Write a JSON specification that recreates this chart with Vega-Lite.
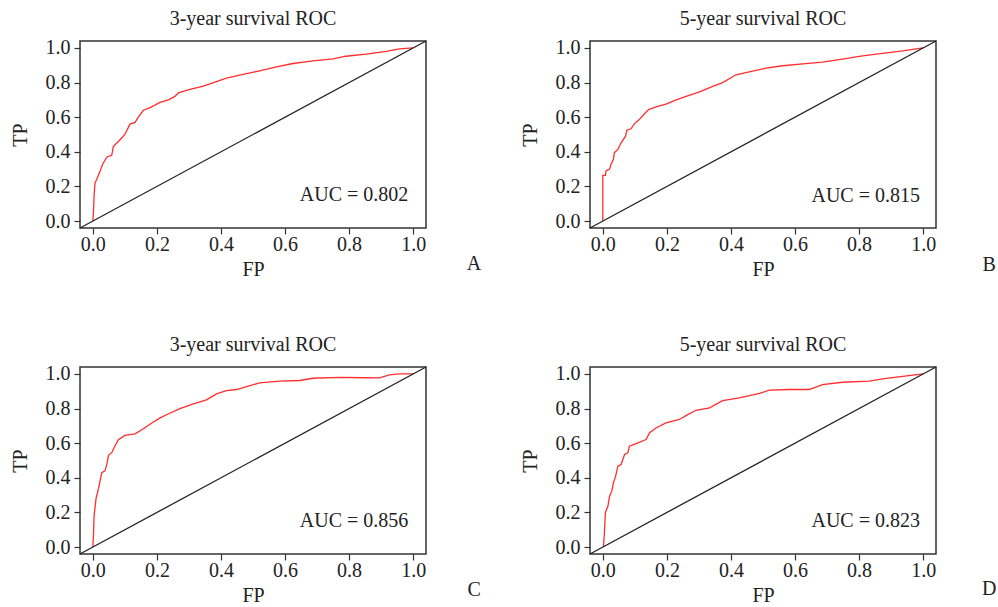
{
  "$schema": "https://vega.github.io/schema/vega-lite/v6.json",
  "background": "white",
  "padding": {"left": 9, "top": 8, "right": 5, "bottom": 5},
  "config": {
    "font": "Liberation Serif",
    "view": {"stroke": "#333", "strokeWidth": 1.5},
    "axis": {"labelFont": "Liberation Serif", "labelFontSize": 20, "labelColor": "#222", "titleFont": "Liberation Serif", "titleFontSize": 20, "titleFontWeight": "normal", "titleColor": "#222", "tickColor": "#333", "tickSize": 6, "tickWidth": 1.2, "domain": false, "grid": false, "labelPadding": 4, "labelFlush": false, "labelOverlap": false, "tickCount": 6, "format": ".1f"},
    "axisY": {"titlePadding": 15},
    "axisX": {"titlePadding": 5, "labelPadding": 0},
    "title": {"font": "Liberation Serif", "fontSize": 20, "fontWeight": "normal", "color": "#222", "baseline": "alphabetic", "offset": 9}
  },
  "datasets": {
    "A": [{"fp":0,"tp":0},{"fp":0.002,"tp":0.05},{"fp":0.004,"tp":0.15},{"fp":0.007,"tp":0.22},{"fp":0.012,"tp":0.24},{"fp":0.023,"tp":0.29},{"fp":0.031,"tp":0.33},{"fp":0.044,"tp":0.37},{"fp":0.059,"tp":0.38},{"fp":0.064,"tp":0.43},{"fp":0.085,"tp":0.47},{"fp":0.1,"tp":0.5},{"fp":0.116,"tp":0.56},{"fp":0.132,"tp":0.57},{"fp":0.142,"tp":0.6},{"fp":0.158,"tp":0.64},{"fp":0.179,"tp":0.655},{"fp":0.21,"tp":0.685},{"fp":0.236,"tp":0.7},{"fp":0.256,"tp":0.72},{"fp":0.267,"tp":0.74},{"fp":0.303,"tp":0.76},{"fp":0.345,"tp":0.78},{"fp":0.386,"tp":0.805},{"fp":0.417,"tp":0.825},{"fp":0.469,"tp":0.847},{"fp":0.521,"tp":0.868},{"fp":0.573,"tp":0.89},{"fp":0.625,"tp":0.91},{"fp":0.687,"tp":0.925},{"fp":0.75,"tp":0.937},{"fp":0.79,"tp":0.952},{"fp":0.853,"tp":0.964},{"fp":0.916,"tp":0.98},{"fp":0.957,"tp":0.995},{"fp":1,"tp":1}],
    "B": [{"fp":0,"tp":0},{"fp":0.0,"tp":0.264},{"fp":0.008,"tp":0.264},{"fp":0.01,"tp":0.29},{"fp":0.021,"tp":0.3},{"fp":0.026,"tp":0.33},{"fp":0.033,"tp":0.356},{"fp":0.036,"tp":0.395},{"fp":0.047,"tp":0.414},{"fp":0.057,"tp":0.452},{"fp":0.071,"tp":0.49},{"fp":0.075,"tp":0.525},{"fp":0.088,"tp":0.533},{"fp":0.099,"tp":0.563},{"fp":0.114,"tp":0.586},{"fp":0.13,"tp":0.62},{"fp":0.143,"tp":0.644},{"fp":0.166,"tp":0.659},{"fp":0.197,"tp":0.676},{"fp":0.229,"tp":0.7},{"fp":0.26,"tp":0.72},{"fp":0.3,"tp":0.745},{"fp":0.343,"tp":0.778},{"fp":0.374,"tp":0.8},{"fp":0.416,"tp":0.845},{"fp":0.457,"tp":0.862},{"fp":0.509,"tp":0.883},{"fp":0.561,"tp":0.897},{"fp":0.624,"tp":0.908},{"fp":0.686,"tp":0.918},{"fp":0.748,"tp":0.935},{"fp":0.811,"tp":0.954},{"fp":0.873,"tp":0.969},{"fp":0.936,"tp":0.983},{"fp":1,"tp":1}],
    "C": [{"fp":0,"tp":0},{"fp":0.002,"tp":0.067},{"fp":0.004,"tp":0.18},{"fp":0.01,"tp":0.28},{"fp":0.018,"tp":0.34},{"fp":0.023,"tp":0.385},{"fp":0.028,"tp":0.43},{"fp":0.038,"tp":0.44},{"fp":0.044,"tp":0.48},{"fp":0.049,"tp":0.53},{"fp":0.059,"tp":0.545},{"fp":0.07,"tp":0.587},{"fp":0.08,"tp":0.62},{"fp":0.1,"tp":0.645},{"fp":0.132,"tp":0.654},{"fp":0.158,"tp":0.683},{"fp":0.184,"tp":0.717},{"fp":0.21,"tp":0.746},{"fp":0.24,"tp":0.773},{"fp":0.272,"tp":0.8},{"fp":0.314,"tp":0.827},{"fp":0.355,"tp":0.85},{"fp":0.386,"tp":0.885},{"fp":0.417,"tp":0.904},{"fp":0.449,"tp":0.91},{"fp":0.48,"tp":0.927},{"fp":0.52,"tp":0.948},{"fp":0.584,"tp":0.958},{"fp":0.646,"tp":0.962},{"fp":0.687,"tp":0.975},{"fp":0.77,"tp":0.98},{"fp":0.854,"tp":0.978},{"fp":0.895,"tp":0.977},{"fp":0.926,"tp":0.994},{"fp":0.957,"tp":1},{"fp":1,"tp":1}],
    "D": [{"fp":0.002,"tp":0},{"fp":0.005,"tp":0.083},{"fp":0.008,"tp":0.2},{"fp":0.016,"tp":0.237},{"fp":0.021,"tp":0.294},{"fp":0.028,"tp":0.323},{"fp":0.033,"tp":0.371},{"fp":0.04,"tp":0.41},{"fp":0.047,"tp":0.467},{"fp":0.057,"tp":0.477},{"fp":0.068,"tp":0.535},{"fp":0.078,"tp":0.544},{"fp":0.083,"tp":0.583},{"fp":0.104,"tp":0.598},{"fp":0.135,"tp":0.621},{"fp":0.146,"tp":0.66},{"fp":0.166,"tp":0.688},{"fp":0.197,"tp":0.717},{"fp":0.239,"tp":0.737},{"fp":0.265,"tp":0.765},{"fp":0.291,"tp":0.79},{"fp":0.333,"tp":0.804},{"fp":0.374,"tp":0.846},{"fp":0.426,"tp":0.862},{"fp":0.489,"tp":0.887},{"fp":0.52,"tp":0.906},{"fp":0.582,"tp":0.91},{"fp":0.644,"tp":0.91},{"fp":0.686,"tp":0.938},{"fp":0.748,"tp":0.952},{"fp":0.832,"tp":0.958},{"fp":0.873,"tp":0.971},{"fp":0.936,"tp":0.986},{"fp":1,"tp":1}]
  },
  "columns": 2,
  "spacing": {"row": 139, "column": 164},
  "bounds": "flush",
  "concat": [
    {
      "width": 346, "height": 187,
      "title": "3-year survival ROC",
      "encoding": {
        "x": {"type": "quantitative", "title": "FP", "scale": {"domain": [-0.04, 1.04], "nice": false, "zero": false}, "axis": {"values": [0, 0.2, 0.4, 0.6, 0.8, 1.0], "labelOverlap": false}},
        "y": {"type": "quantitative", "title": "TP", "scale": {"domain": [-0.04, 1.04], "nice": false, "zero": false}, "axis": {"values": [0, 0.2, 0.4, 0.6, 0.8, 1.0], "labelOverlap": false}}
      },
      "layer": [
        {"data": {"name": "A"}, "mark": {"type": "line", "color": "#ff2d2d", "strokeWidth": 1.3},
         "encoding": {"x": {"field": "fp"}, "y": {"field": "tp"}, "order": [{"field": "fp"}, {"field": "tp"}]}},
        {"data": {"values": [{}]}, "mark": {"type": "rule", "color": "#222", "strokeWidth": 1.3}, "encoding": {"x": {"datum": -0.04}, "y": {"datum": -0.04}, "x2": {"datum": 1.04}, "y2": {"datum": 1.04}}},
        {"data": {"values": [{}]}, "mark": {"type": "text", "align": "right", "baseline": "alphabetic", "fontSize": 20, "color": "#222", "font": "Liberation Serif"}, "encoding": {"x": {"datum": 0.985}, "y": {"datum": 0.115}, "text": {"value": "AUC = 0.802"}}},
        {"data": {"values": [{}]}, "mark": {"type": "text", "align": "center", "baseline": "alphabetic", "fontSize": 20, "color": "#222", "font": "Liberation Serif"}, "encoding": {"x": {"datum": 1.19}, "y": {"datum": -0.28}, "text": {"value": "A"}}}
      ]
    },
    {
      "width": 346, "height": 187,
      "title": "5-year survival ROC",
      "encoding": {
        "x": {"type": "quantitative", "title": "FP", "scale": {"domain": [-0.04, 1.04], "nice": false, "zero": false}, "axis": {"values": [0, 0.2, 0.4, 0.6, 0.8, 1.0], "labelOverlap": false}},
        "y": {"type": "quantitative", "title": "TP", "scale": {"domain": [-0.04, 1.04], "nice": false, "zero": false}, "axis": {"values": [0, 0.2, 0.4, 0.6, 0.8, 1.0], "labelOverlap": false}}
      },
      "layer": [
        {"data": {"name": "B"}, "mark": {"type": "line", "color": "#ff2d2d", "strokeWidth": 1.3},
         "encoding": {"x": {"field": "fp"}, "y": {"field": "tp"}, "order": [{"field": "fp"}, {"field": "tp"}]}},
        {"data": {"values": [{}]}, "mark": {"type": "rule", "color": "#222", "strokeWidth": 1.3}, "encoding": {"x": {"datum": -0.04}, "y": {"datum": -0.04}, "x2": {"datum": 1.04}, "y2": {"datum": 1.04}}},
        {"data": {"values": [{}]}, "mark": {"type": "text", "align": "right", "baseline": "alphabetic", "fontSize": 20, "color": "#222", "font": "Liberation Serif"}, "encoding": {"x": {"datum": 0.99}, "y": {"datum": 0.113}, "text": {"value": "AUC = 0.815"}}},
        {"data": {"values": [{}]}, "mark": {"type": "text", "align": "center", "baseline": "alphabetic", "fontSize": 20, "color": "#222", "font": "Liberation Serif"}, "encoding": {"x": {"datum": 1.206}, "y": {"datum": -0.29}, "text": {"value": "B"}}}
      ]
    },
    {
      "width": 346, "height": 187,
      "title": "3-year survival ROC",
      "encoding": {
        "x": {"type": "quantitative", "title": "FP", "scale": {"domain": [-0.04, 1.04], "nice": false, "zero": false}, "axis": {"values": [0, 0.2, 0.4, 0.6, 0.8, 1.0], "labelOverlap": false}},
        "y": {"type": "quantitative", "title": "TP", "scale": {"domain": [-0.04, 1.04], "nice": false, "zero": false}, "axis": {"values": [0, 0.2, 0.4, 0.6, 0.8, 1.0], "labelOverlap": false}}
      },
      "layer": [
        {"data": {"name": "C"}, "mark": {"type": "line", "color": "#ff2d2d", "strokeWidth": 1.3},
         "encoding": {"x": {"field": "fp"}, "y": {"field": "tp"}, "order": [{"field": "fp"}, {"field": "tp"}]}},
        {"data": {"values": [{}]}, "mark": {"type": "rule", "color": "#222", "strokeWidth": 1.3}, "encoding": {"x": {"datum": -0.04}, "y": {"datum": -0.04}, "x2": {"datum": 1.04}, "y2": {"datum": 1.04}}},
        {"data": {"values": [{}]}, "mark": {"type": "text", "align": "right", "baseline": "alphabetic", "fontSize": 20, "color": "#222", "font": "Liberation Serif"}, "encoding": {"x": {"datum": 0.985}, "y": {"datum": 0.115}, "text": {"value": "AUC = 0.856"}}},
        {"data": {"values": [{}]}, "mark": {"type": "text", "align": "center", "baseline": "alphabetic", "fontSize": 20, "color": "#222", "font": "Liberation Serif"}, "encoding": {"x": {"datum": 1.19}, "y": {"datum": -0.284}, "text": {"value": "C"}}}
      ]
    },
    {
      "width": 346, "height": 187,
      "title": "5-year survival ROC",
      "encoding": {
        "x": {"type": "quantitative", "title": "FP", "scale": {"domain": [-0.04, 1.04], "nice": false, "zero": false}, "axis": {"values": [0, 0.2, 0.4, 0.6, 0.8, 1.0], "labelOverlap": false}},
        "y": {"type": "quantitative", "title": "TP", "scale": {"domain": [-0.04, 1.04], "nice": false, "zero": false}, "axis": {"values": [0, 0.2, 0.4, 0.6, 0.8, 1.0], "labelOverlap": false}}
      },
      "layer": [
        {"data": {"name": "D"}, "mark": {"type": "line", "color": "#ff2d2d", "strokeWidth": 1.3},
         "encoding": {"x": {"field": "fp"}, "y": {"field": "tp"}, "order": [{"field": "fp"}, {"field": "tp"}]}},
        {"data": {"values": [{}]}, "mark": {"type": "rule", "color": "#222", "strokeWidth": 1.3}, "encoding": {"x": {"datum": -0.04}, "y": {"datum": -0.04}, "x2": {"datum": 1.04}, "y2": {"datum": 1.04}}},
        {"data": {"values": [{}]}, "mark": {"type": "text", "align": "right", "baseline": "alphabetic", "fontSize": 20, "color": "#222", "font": "Liberation Serif"}, "encoding": {"x": {"datum": 0.99}, "y": {"datum": 0.115}, "text": {"value": "AUC = 0.823"}}},
        {"data": {"values": [{}]}, "mark": {"type": "text", "align": "center", "baseline": "alphabetic", "fontSize": 20, "color": "#222", "font": "Liberation Serif"}, "encoding": {"x": {"datum": 1.206}, "y": {"datum": -0.277}, "text": {"value": "D"}}}
      ]
    }
  ]
}
